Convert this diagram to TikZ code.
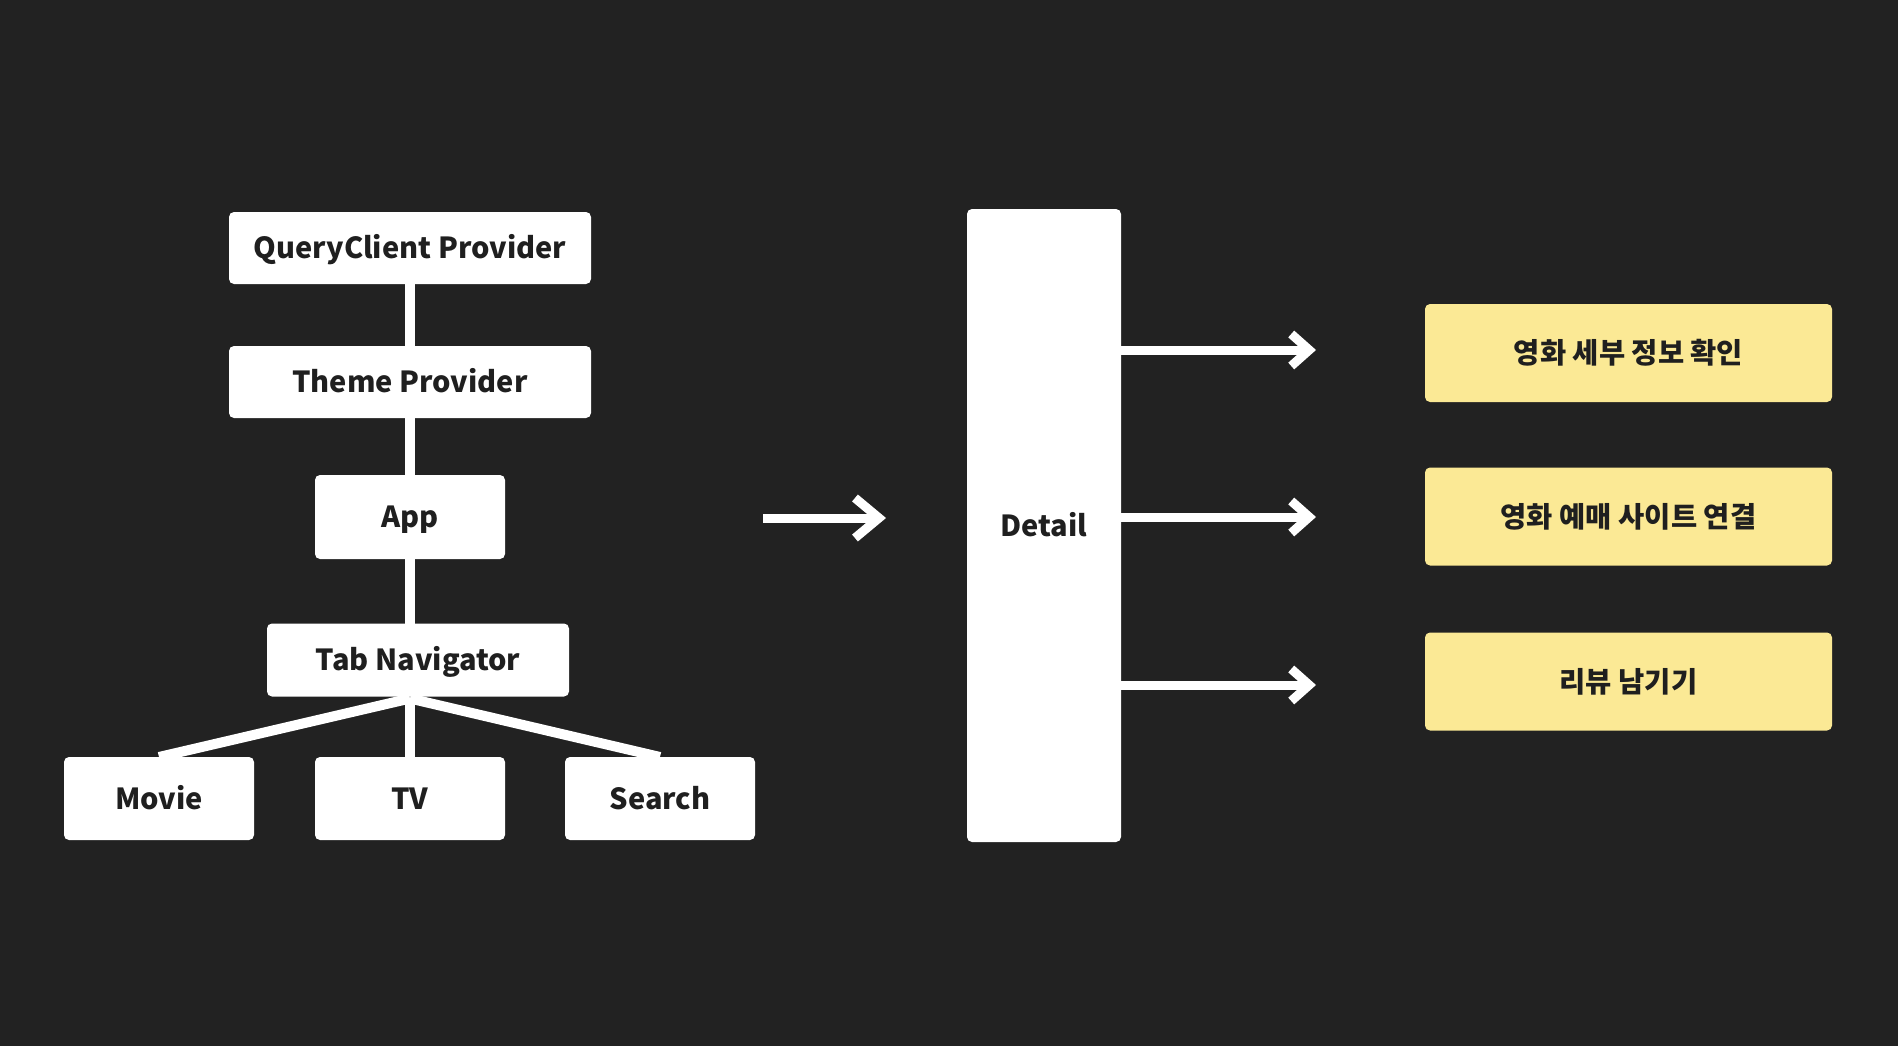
\documentclass[tikz,border=0pt]{standalone}
\usepackage{fontspec}
\setmainfont{Noto Sans CJK KR}[UprightFont=* Black]
\usetikzlibrary{arrows.meta}
\definecolor{bgc}{HTML}{222222}
\definecolor{txt}{HTML}{1F1F1F}
\definecolor{ylw}{HTML}{FBE995}
\pgfdeclarelayer{back}
\pgfdeclarelayer{lines}
\pgfsetlayers{back,lines,main}
\begin{document}
\begin{tikzpicture}[x=1pt,y=-1pt,
  box/.style={rectangle, fill=white, rounded corners=5pt, inner sep=0pt, outer sep=0pt, text=txt, font=\fontsize{29}{31}\selectfont, text height=21pt, text depth=0pt},
  ybox/.style={box, fill=ylw, font=\fontsize{28.5}{31}\selectfont, text height=22pt, text depth=1pt, minimum width=407pt, minimum height=98pt},
  conn/.style={draw=white, line width=10pt},
  arr/.style={draw=white, line width=9pt, -{Straight Barb[length=18pt,width=32pt]}},
  bigarr/.style={draw=white, line width=9pt, -{Straight Barb[length=24pt,width=40pt]}}]
\begin{pgfonlayer}{back}
\fill[bgc] (0,0) rectangle (1898,1046);
\end{pgfonlayer}
\useasboundingbox (0,0) rectangle (1898,1046);

\node[box, minimum width=362pt, minimum height=72pt] (qc) at (410,248) {QueryClient Provider};
\node[box, minimum width=362pt, minimum height=72pt] (theme) at (410,382) {Theme Provider};
\node[box, minimum width=190pt, minimum height=84pt] (app) at (410,517) {App};
\node[box, minimum width=302pt, minimum height=73pt] (tab) at (418,660) {Tab Navigator};
\node[box, minimum width=190pt, minimum height=83pt] (movie) at (159,798.5) {Movie};
\node[box, minimum width=190pt, minimum height=83pt] (tv) at (410,798.5) {TV};
\node[box, minimum width=190pt, minimum height=83pt] (search) at (660,798.5) {Search};

\node[box, minimum width=154pt, minimum height=633pt] (detail) at (1044,525.5) {Detail};

\node[ybox] (y1) at (1628.5,353) {영화 세부 정보 확인};
\node[ybox] (y2) at (1628.5,516.5) {영화 예매 사이트 연결};
\node[ybox] (y3) at (1628.5,681.5) {리뷰 남기기};

\coordinate (j) at (tab.south -| tv.north);
\coordinate (a0) at (763,518);
\coordinate (a1) at (886,518);
\coordinate (e1) at (1316,350);
\coordinate (e2) at (1316,517);
\coordinate (e3) at (1316,685);

\begin{pgfonlayer}{lines}
\draw[conn] (qc.south) -- (theme.north);
\draw[conn] (theme.south) -- (app.north);
\draw[conn] (app.south) -- (app.south |- tab.north);
\draw[conn] ([yshift=-2pt]j) -- (tv.north);
\draw[conn] ([yshift=-2pt]j) -- (movie.north);
\draw[conn] ([yshift=-2pt]j) -- (search.north);
\end{pgfonlayer}

\draw[bigarr] (a0) -- (a1);
\draw[arr] (detail.east |- e1) -- (e1);
\draw[arr] (detail.east |- e2) -- (e2);
\draw[arr] (detail.east |- e3) -- (e3);
\end{tikzpicture}
\end{document}
